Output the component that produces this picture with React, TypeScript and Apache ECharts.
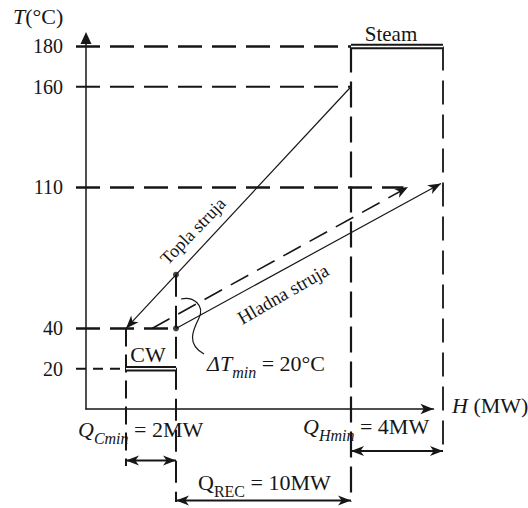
import React, { useEffect, useRef } from 'react';
import * as echarts from 'echarts';

// ---- data (H positions are schematic: the original diagram is not to scale) ----
const T_TICKS = [20, 40, 110, 160, 180];
const hotStream = [[10.6, 160], [1.6, 40]]; // Topla struja
const coldStream = [[3.6, 40], [14.2, 112]]; // Hladna struja
const coldShifted = [[2.64, 40], [12.88, 110.2]]; // shifted cold curve (dashed)
const pinchPoints = [[3.6, 66.7], [3.6, 40]];
const steamBar = [[10.6, 180], [14.28, 180]];
const cwBar = [[1.6, 20], [3.6, 20]];
const guidesThick = [
  [[-0.4, 180], [10.6, 180]],
  [[-0.4, 110], [12.7, 110]],
  [[-0.4, 40], [3.6, 40]],
];
const guide160 = [[[-0.4, 160], [10.6, 160]]];
const guide20 = [[[-0.4, 20], [1.6, 20]]];
const vCW = [[[1.6, 40], [1.6, -28.3]]];
const vPinch = [[[3.6, 66.7], [3.6, -46.2]]];
const vSteam = [[[10.6, 180], [10.6, -46.2]]];
const vEnd = [[[14.28, 180], [14.28, -21.4]]];
const qArrows = [
  [[1.6, -25.6], [3.6, -25.6]], // Q_Cmin
  [[10.6, -20.9], [14.28, -20.9]], // Q_Hmin
  [[3.6, -45.4], [10.6, -45.4]], // Q_REC
];

const SERIF = "'Liberation Serif', 'Times New Roman', serif";
const INK = '#161616';

function arrowHead(from: number[], to: number[], len: number, wid: number) {
  const dx = to[0] - from[0];
  const dy = to[1] - from[1];
  const d = Math.hypot(dx, dy) || 1;
  const ux = dx / d, uy = dy / d;
  const nx = -uy, ny = ux;
  const bx = to[0] - ux * len, by = to[1] - uy * len;
  const mx = to[0] - ux * len * 0.72, my = to[1] - uy * len * 0.72;
  return {
    type: 'polygon',
    shape: {
      points: [
        [to[0], to[1]],
        [bx + (nx * wid) / 2, by + (ny * wid) / 2],
        [mx, my],
        [bx - (nx * wid) / 2, by - (ny * wid) / 2],
      ],
    },
    style: { fill: INK, stroke: 'none' },
  };
}

type SegOpts = {
  width: number;
  dash?: number[];
  double?: boolean;
  inner?: number;
  start?: boolean;
  end?: boolean;
  z?: number;
};

function segSeries(id: string, segs: number[][][], o: SegOpts) {
  return {
    type: 'custom',
    id,
    coordinateSystem: 'cartesian2d',
    clip: false,
    silent: true,
    z: o.z ?? 3,
    data: segs.map(([a, b]) => [a[0], a[1], b[0], b[1]]),
    encode: { x: [0, 2], y: [1, 3] },
    renderItem: (_p: any, api: any) => {
      const p1 = api.coord([api.value(0), api.value(1)]);
      const p2 = api.coord([api.value(2), api.value(3)]);
      const shape = { x1: p1[0], y1: p1[1], x2: p2[0], y2: p2[1] };
      const children: any[] = [
        { type: 'line', shape, style: { stroke: INK, lineWidth: o.width, lineDash: o.dash || null, fill: 'none' } },
      ];
      if (o.double) {
        children.push({ type: 'line', shape, style: { stroke: '#ffffff', lineWidth: o.inner || 1.5, fill: 'none' } });
      }
      if (o.end) children.push(arrowHead(p1, p2, 13, 10));
      if (o.start) children.push(arrowHead(p2, p1, 13, 10));
      return { type: 'group', children };
    },
  };
}

const main = { fontFamily: SERIF, fontSize: 22, fill: INK, lineHeight: 28, verticalAlign: 'top' };
const rich = {
  n: { ...main },
  i: { ...main, fontStyle: 'italic' },
  s: { fontFamily: SERIF, fontSize: 16, fill: INK, lineHeight: 16, verticalAlign: 'bottom', fontStyle: 'italic' },
  sn: { fontFamily: SERIF, fontSize: 16, fill: INK, lineHeight: 16, verticalAlign: 'bottom' },
};

function txt(x: number, y: number, text: string, o: any = {}) {
  return {
    type: 'text',
    x,
    y,
    rotation: o.rotation || 0,
    z: 20,
    silent: true,
    style: {
      text,
      rich,
      fontFamily: SERIF,
      fontSize: o.fontSize || 22,
      fill: INK,
      align: o.align || 'left',
      verticalAlign: 'middle',
    },
  };
}

const axisLineStyle = { color: INK, width: 1.5 };

const option: any = {
  animation: false,
  backgroundColor: '#ffffff',
  grid: { left: 86, right: 94.5, top: 38, bottom: 99, containLabel: false, outerBoundsMode: 'none' },
  xAxis: {
    type: 'value',
    min: 0,
    max: 13.9,
    axisLine: { show: true, onZero: false, symbol: ['none', 'arrow'], symbolSize: [8, 13], lineStyle: axisLineStyle },
    axisTick: { show: false },
    axisLabel: { show: false },
    splitLine: { show: false },
  },
  yAxis: {
    type: 'value',
    min: 0,
    max: 184.2,
    axisLine: { show: true, onZero: false, symbol: ['none', 'triangle'], symbolSize: [11, 12], lineStyle: axisLineStyle },
    axisTick: { show: false },
    splitLine: { show: false },
    axisLabel: { customValues: T_TICKS, fontFamily: SERIF, fontSize: 20, color: INK, margin: 23 },
  },
  series: [
    segSeries('guidesThick', guidesThick, { width: 2.5, dash: [24, 10] }),
    segSeries('guide160', guide160, { width: 2, dash: [24, 10] }),
    segSeries('guide20', guide20, { width: 2, dash: [10, 7] }),
    segSeries('vCW', vCW, { width: 2, dash: [18, 8] }),
    segSeries('vPinch', vPinch, { width: 2, dash: [22, 9] }),
    segSeries('vSteam', vSteam, { width: 2.2, dash: [26, 9] }),
    segSeries('vEnd', vEnd, { width: 1.8, dash: [24, 10] }),
    segSeries('steam', [steamBar], { width: 5.5, double: true, inner: 1.6, z: 4 }),
    segSeries('cw', [cwBar], { width: 5.5, double: true, inner: 1.6, z: 4 }),
    segSeries('hot', [hotStream], { width: 1.2, end: true, z: 5 }),
    segSeries('cold', [coldStream], { width: 1.2, end: true, z: 5 }),
    segSeries('coldShifted', [coldShifted], { width: 1.6, dash: [20, 10], end: true, z: 5 }),
    segSeries('qArrows', qArrows, { width: 2, start: true, end: true, z: 5 }),
    {
      type: 'scatter',
      data: pinchPoints,
      symbolSize: 6,
      itemStyle: { color: INK },
      silent: true,
      clip: false,
      z: 6,
    },
  ],
  graphic: {
    elements: [
      txt(13, 19, '{i|T}{n|(°C)}'),
      txt(452, 408, '{i|H}{n| (MW)}'),
      txt(391, 34, 'Steam', { align: 'center', fontSize: 21 }),
      txt(148, 354, 'CW', { align: 'center' }),
      txt(207, 366, '{i|Δ}{i|T}{s|min}{n| = 20°C}'),
      txt(193, 231, 'Topla struja', { align: 'center', fontSize: 18, rotation: (46 * Math.PI) / 180 }),
      txt(283, 294, 'Hladna struja', { align: 'center', fontSize: 19, rotation: (30 * Math.PI) / 180 }),
      txt(78, 432, '{i|Q}{s|Cmin}{n| = 2MW}'),
      txt(303, 429, '{i|Q}{s|Hmin}{n| = 4MW}'),
      txt(198, 485, '{n|Q}{sn|REC}{n| = 10MW}'),
      {
        type: 'bezierCurve',
        silent: true,
        z: 20,
        shape: { x1: 181, y1: 299, cpx1: 193, cpy1: 296, cpx2: 205, cpy2: 305, x2: 199, y2: 318 },
        style: { stroke: INK, lineWidth: 1.2, fill: 'none' },
      },
      {
        type: 'bezierCurve',
        silent: true,
        z: 20,
        shape: { x1: 199, y1: 318, cpx1: 193, cpy1: 330, cpx2: 186, cpy2: 344, x2: 204, y2: 354 },
        style: { stroke: INK, lineWidth: 1.2, fill: 'none' },
      },
    ],
  },
};

export default function App() {
  const ref = useRef<HTMLDivElement>(null);
  useEffect(() => {
    document.body.style.margin = '0';
    const chart = echarts.init(ref.current as HTMLDivElement, null, { renderer: 'svg' });
    chart.setOption(option);
    return () => chart.dispose();
  }, []);
  return <div ref={ref} style={{ width: 528, height: 508 }} />;
}
